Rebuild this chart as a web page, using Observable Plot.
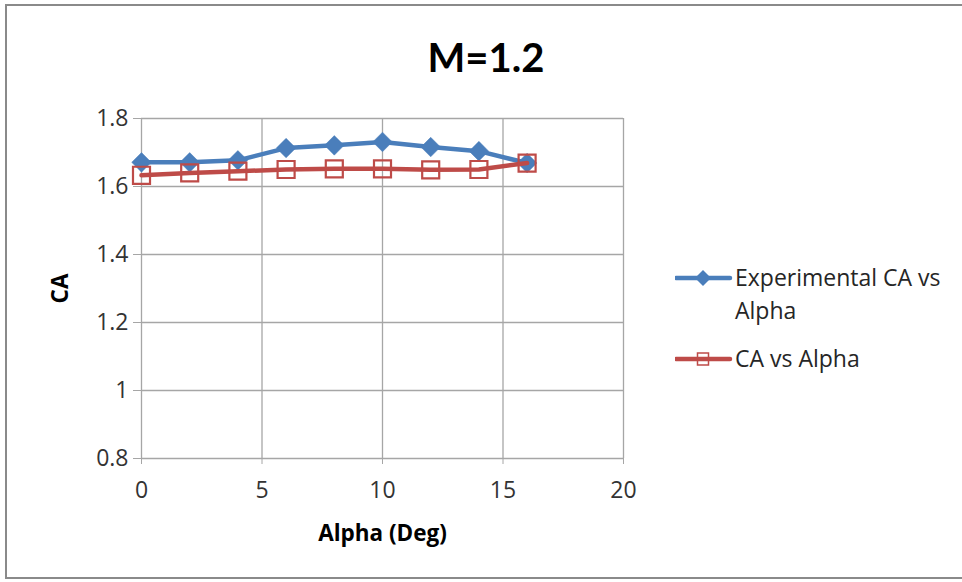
<!DOCTYPE html>
<html>
<head>
<meta charset="utf-8">
<script src="https://cdn.jsdelivr.net/npm/d3@7"></script>
<script src="https://cdn.jsdelivr.net/npm/@observablehq/plot@0.6"></script>
<style>
  html, body { margin: 0; padding: 0; background: #fff; }
  #wrap { position: relative; width: 962px; height: 582px; overflow: hidden; font-family: "Open Sans", sans-serif; }
  #border { position: absolute; left: 5px; top: 4px; width: 970px; height: 575px; border: 2px solid #8a8a8a; box-sizing: border-box; pointer-events: none; }
  #title { position: absolute; left: 0; width: 972px; top: 33px; text-align: center; font-family: Lato, sans-serif; font-size: 40px; font-weight: bold; color: #000; }
  .leg { position: absolute; font-size: 23px; color: #262626; line-height: 33px; }
  .leg svg { position: absolute; }
  #chart svg text { font-family: "Open Sans", sans-serif !important; font-size: 23px !important; fill: #333; }
  #chart g[aria-label="x-axis label"] text, #chart g[aria-label="y-axis label"] text { font-weight: bold; fill: #000; font-size: 22.5px !important; }
</style>
</head>
<body>
<div id="wrap">
  <div id="chart"></div>
  <div id="border"></div>
  <div id="title">M=1.2</div>
  <div id="legend"></div>
</div>
<script>
const alpha = [0, 2, 4, 6, 8, 10, 12, 14, 16];
const experimentalCA = [1.671, 1.671, 1.677, 1.713, 1.721, 1.731, 1.716, 1.704, 1.669];
const computedCA = [1.633, 1.640, 1.645, 1.650, 1.652, 1.652, 1.649, 1.650, 1.669];
const xTicks = [0, 5, 10, 15, 20];
const yTicks = [0.8, 1.0, 1.2, 1.4, 1.6, 1.8];
const seriesNames = ["Experimental CA vs\nAlpha", "CA vs Alpha"];
const colors = ["#4a7ebb", "#be4b48"];

const expData = alpha.map((a, i) => ({alpha: a, ca: experimentalCA[i]}));
const compData = alpha.map((a, i) => ({alpha: a, ca: computedCA[i]}));

const chart = Plot.plot({
  width: 962,
  height: 582,
  marginLeft: 141,
  marginRight: 339,
  marginTop: 118,
  marginBottom: 124,
  style: {fontFamily: "'Open Sans', sans-serif", fontSize: "23px", color: "#333", background: "transparent"},
  x: {domain: [0, 20]},
  y: {domain: [0.8, 1.8]},
  marks: [
    Plot.ruleX(xTicks, {stroke: "#a6a6a6", strokeWidth: 1.3}),
    Plot.ruleY(yTicks, {stroke: "#a6a6a6", strokeWidth: 1.3}),
    Plot.axisX(xTicks, {tickSize: 6, tickPadding: 17, stroke: "#a6a6a6", label: "Alpha (Deg)", labelAnchor: "center", labelOffset: 82, labelArrow: "none"}),
    Plot.axisY(yTicks, {tickSize: 8, tickPadding: 5, stroke: "#a6a6a6", tickFormat: d => String(+d.toFixed(1)), label: "CA", labelAnchor: "center", labelOffset: 89, labelArrow: "none"}),
    Plot.lineY(expData, {x: "alpha", y: "ca", stroke: colors[0], strokeWidth: 4.5}),
    Plot.dot(expData, {x: "alpha", y: "ca", symbol: "diamond2", r: 8.8, fill: colors[0], stroke: colors[0], strokeWidth: 0.5}),
    Plot.lineY(compData, {x: "alpha", y: "ca", stroke: colors[1], strokeWidth: 4.5}),
    Plot.dot(compData, {x: "alpha", y: "ca", symbol: "square", r: 9.6, fill: "none", stroke: colors[1], strokeWidth: 2.2})
  ]
});
document.getElementById("chart").appendChild(chart);

// Legend
const legend = document.getElementById("legend");
const legendTops = [261, 342];
seriesNames.forEach((name, i) => {
  const item = document.createElement("div");
  item.className = "leg";
  item.style.left = "675px";
  item.style.top = legendTops[i] + "px";
  const ns = "http://www.w3.org/2000/svg";
  const svg = document.createElementNS(ns, "svg");
  svg.setAttribute("width", 58); svg.setAttribute("height", 20);
  svg.style.left = "0px"; svg.style.top = "7px";
  const line = document.createElementNS(ns, "line");
  line.setAttribute("x1", 1); line.setAttribute("x2", 55); line.setAttribute("y1", 10); line.setAttribute("y2", 10);
  line.setAttribute("stroke", colors[i]); line.setAttribute("stroke-width", 4.5); line.setAttribute("stroke-linecap", "round");
  svg.appendChild(line);
  const m = document.createElementNS(ns, "path");
  if (i === 0) {
    m.setAttribute("d", "M28,2 L36,10 L28,18 L20,10 Z");
    m.setAttribute("fill", colors[i]);
  } else {
    m.setAttribute("d", "M22.5,4 H33.5 V16 H22.5 Z");
    m.setAttribute("fill", "none"); m.setAttribute("stroke", colors[i]); m.setAttribute("stroke-width", 1.5);
  }
  svg.appendChild(m);
  item.appendChild(svg);
  const text = document.createElement("div");
  text.style.marginLeft = "60px";
  text.style.whiteSpace = "pre";
  text.textContent = name;
  item.appendChild(text);
  legend.appendChild(item);
});
</script>
</body>
</html>
